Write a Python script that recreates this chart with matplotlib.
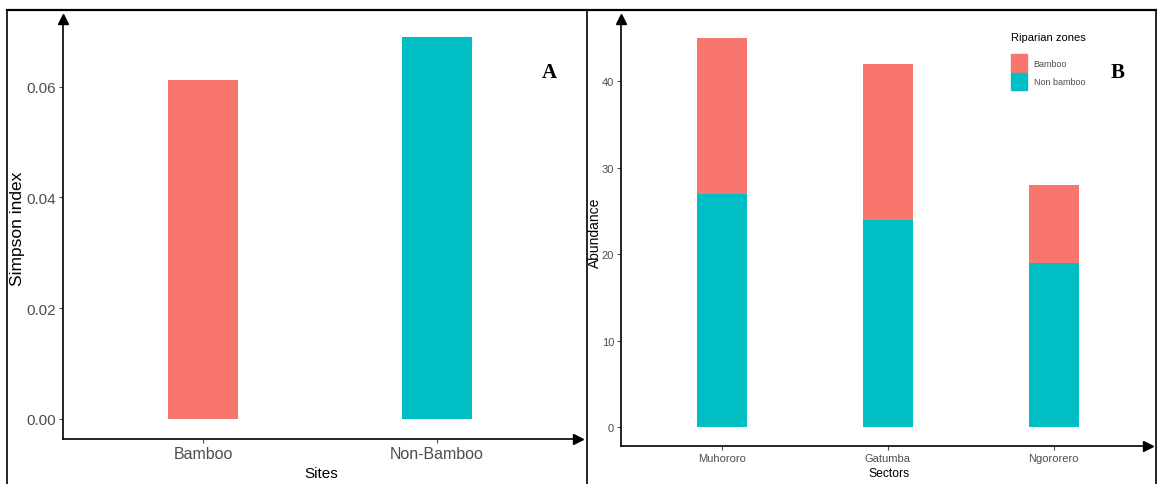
import matplotlib
matplotlib.use("Agg")
import matplotlib.pyplot as plt
from matplotlib.lines import Line2D
from matplotlib.patches import Patch
from matplotlib import font_manager

# Data
sites = ["Bamboo", "Non-Bamboo"]
simpson = [0.0611, 0.0690]
sectors = ["Muhororo", "Gatumba", "Ngororero"]
non_bamboo = [27, 24, 19]
bamboo = [18, 18, 9]
yticks_a = [0.00, 0.02, 0.04, 0.06]
yticks_b = [0, 10, 20, 30, 40]

RED = "#F8766D"
TEAL = "#00BFC4"
GRAY = "#4D4D4D"

names = {f.name for f in font_manager.fontManager.ttflist}
NARROW = "Liberation Sans Narrow" if "Liberation Sans Narrow" in names else "Liberation Sans"
plt.rcParams['font.family'] = [NARROW, 'DejaVu Sans']

W, H = 1157, 485
fig = plt.figure(figsize=(W / 100, H / 100), dpi=100)


def px_axes(l, r, t, b):
    return fig.add_axes([l / W, 1 - b / H, (r - l) / W, (b - t) / H])


def style(ax, fs):
    for s in ["top", "right"]:
        ax.spines[s].set_visible(False)
    for s in ["left", "bottom"]:
        ax.spines[s].set_linewidth(1.2)
        ax.spines[s].set_color("black")
    ax.tick_params(axis="both", colors=GRAY, labelsize=fs, length=3, width=0.8, pad=2)
    ax.plot(1, 0, ">", color="black", ms=7, transform=ax.transAxes, clip_on=False)
    ax.plot(0, 1, "^", color="black", ms=7, transform=ax.transAxes, clip_on=False)


# Panel A
axA = px_axes(63, 578, 20, 440)
axA.bar(range(len(sites)), simpson, width=0.3, color=[RED, TEAL])
axA.set_xlim(-0.601, 1.603)
axA.set_ylim(-0.00361, 0.0722)
axA.set_xticks(range(len(sites)))
axA.set_xticklabels(sites)
axA.set_yticks(yticks_a)
axA.set_yticklabels([f"{v:.2f}" for v in yticks_a])
style(axA, 11)
axA.tick_params(axis="x", labelsize=11.5)
axA.set_ylabel("Simpson index", fontsize=12.5, color="black")
axA.yaxis.set_label_coords((25 - 63) / 515, (440 - 229) / 420)
axA.set_xlabel("Sites", fontsize=11, color="black")
axA.xaxis.set_label_coords((321 - 63) / 515, -(467 - 440) / 420)

# Panel B
axB = px_axes(621, 1148, 20, 447)
xs = range(len(sectors))
axB.bar(xs, non_bamboo, width=0.3, color=TEAL, label="Non bamboo")
axB.bar(xs, bamboo, width=0.3, bottom=non_bamboo, color=RED, label="Bamboo")
axB.set_xlim(-0.606, 2.567)
axB.set_ylim(-2.2, 47.2)
axB.set_xticks(list(xs))
axB.set_xticklabels(sectors)
axB.set_yticks(yticks_b)
style(axB, 8)
axB.set_ylabel("Abundance", fontsize=10, color="black")
axB.yaxis.set_label_coords((602 - 621) / 527, (447 - 233) / 427)
axB.set_xlabel("Sectors", fontsize=8.7, color="black")
axB.xaxis.set_label_coords((889 - 621) / 527, -(468 - 447) / 427)

handles = [Patch(color=RED, label="Bamboo"), Patch(color=TEAL, label="Non bamboo")]
leg = fig.legend(handles=handles, title="Riparian zones", loc="upper left",
                 bbox_to_anchor=(1007 / W, 1 - 29 / H), frameon=False,
                 fontsize=6.5, title_fontsize=8, handlelength=1.8, handleheight=2.6,
                 handletextpad=0.75, labelspacing=0.15, borderaxespad=0)
leg._legend_box.align = "left"
leg._legend_box.sep = 9
for t in leg.get_texts():
    t.set_color(GRAY)

# Panel letters
fig.text(549 / W, 1 - 73 / H, "A", fontsize=15, fontweight="bold",
         family="Liberation Serif", ha="center", va="center")
fig.text(1118 / W, 1 - 73 / H, "B", fontsize=15, fontweight="bold",
         family="Liberation Serif", ha="center", va="center")

# Outer frames
def fl(x0, y0, x1, y1, lw=1.2):
    fig.add_artist(Line2D([x0 / W, x1 / W], [1 - y0 / H, 1 - y1 / H],
                          color="black", lw=lw))

fl(7, 11, 1157, 11, 1.6)
fl(7, 11, 7, 485)
fl(587, 11, 587, 485)
fl(1156, 11, 1156, 485)

fig.savefig("out.png", dpi=100)
